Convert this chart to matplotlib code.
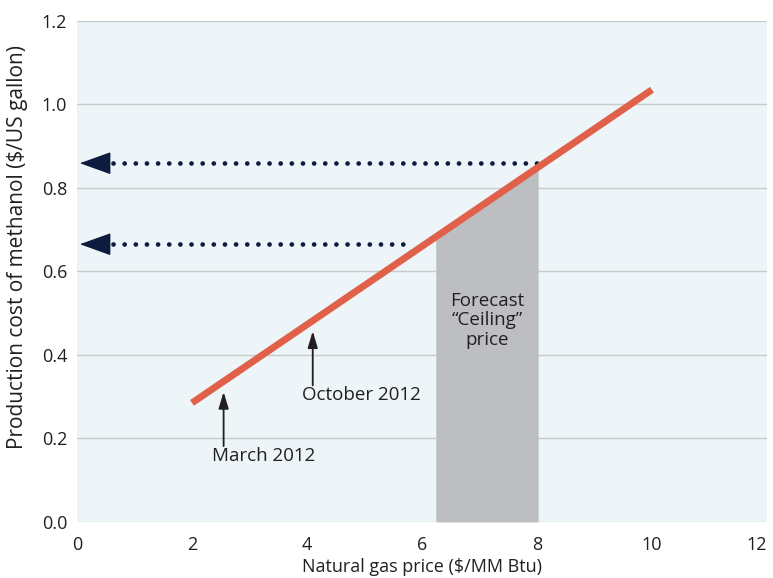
import matplotlib.pyplot as plt
import numpy as np

plt.rcParams['font.family'] = ['Open Sans', 'DejaVu Sans']

# data
gas_price = [2, 10]
methanol_cost = [0.285, 1.035]
ceiling_range = [6.24, 8.02]
ref_costs = [0.859, 0.665]
ref_ends = [8.1, 5.85]
events = ['March 2012', 'October 2012']
event_x = [2.55, 4.1]

line_col = '#E0604A'
navy = '#0D1B3E'
txt = '#231F20'

fig = plt.figure(figsize=(7.73, 5.78), dpi=100)
ax = fig.add_axes([0.0996, 0.097, 0.8926, 0.867])
ax.set_facecolor('#EDF5F9')

slope = (methanol_cost[1] - methanol_cost[0]) / (gas_price[1] - gas_price[0])
def cost(x):
    return methanol_cost[0] + slope * (np.asarray(x) - gas_price[0])

# forecast ceiling band under the line
xs = np.linspace(ceiling_range[0], ceiling_range[1], 20)
ax.fill_between(xs, 0, cost(xs), color='#BDBEC1', lw=0, zorder=2)
ax.text(np.mean(ceiling_range), 0.483, 'Forecast\n\u201cCeiling\u201d\nprice',
        ha='center', va='center', fontsize=13.5, color=txt, linespacing=1.1, zorder=3)

ax.plot(gas_price, methanol_cost, color=line_col, lw=5, solid_capstyle='butt', zorder=4)

# dotted reference arrows to the y axis
for yv, xe in zip(ref_costs, ref_ends):
    ax.plot([0.62, xe], [yv, yv], color=navy, lw=3.4, linestyle=(0, (0.01, 2.35)),
            dash_capstyle='round', zorder=3)
    ax.annotate('', xy=(0.05, yv), xytext=(0.55, yv),
                arrowprops=dict(arrowstyle='-|>,head_length=2.0,head_width=0.72',
                                color=navy, lw=1.0, shrinkA=0, shrinkB=0), zorder=3)

# event markers
text_pos = [(3.25, 0.158), (4.95, 0.303)]
for lbl, xv, (tx, ty) in zip(events, event_x, text_pos):
    ax.annotate('', xy=(xv, cost(xv) - 0.025), xytext=(xv, cost(xv) - 0.155),
                arrowprops=dict(arrowstyle='-|>,head_length=1.0,head_width=0.3',
                                color=txt, lw=1.3, shrinkA=0, shrinkB=0), zorder=5)
    ax.text(tx, ty, lbl, ha='center', va='center', fontsize=13.5, color=txt)

ax.set_xlim(0, 12)
ax.set_ylim(0, 1.2)
ax.set_xticks(range(0, 13, 2))
ax.set_yticks(np.arange(0, 1.21, 0.2))
ax.set_yticklabels([f'{v:.1f}' for v in np.arange(0, 1.21, 0.2)])
ax.yaxis.grid(True, color='#C8CACC', lw=1)
ax.set_axisbelow(True)
for s in ax.spines.values():
    s.set_visible(False)
ax.tick_params(length=0, labelsize=13, colors=txt)
ax.tick_params(axis='x', pad=10)
ax.tick_params(axis='y', pad=7)
ax.get_xticklabels()[-1].set_ha('right')
ax.set_xlabel('Natural gas price ($/MM Btu)', fontsize=13, color=txt, labelpad=3)
ax.set_ylabel('Production cost of methanol ($/US gallon)', fontsize=15, color=txt)
ax.yaxis.set_label_coords(-0.071, 0.549)

fig.savefig('out.png', dpi=100)
